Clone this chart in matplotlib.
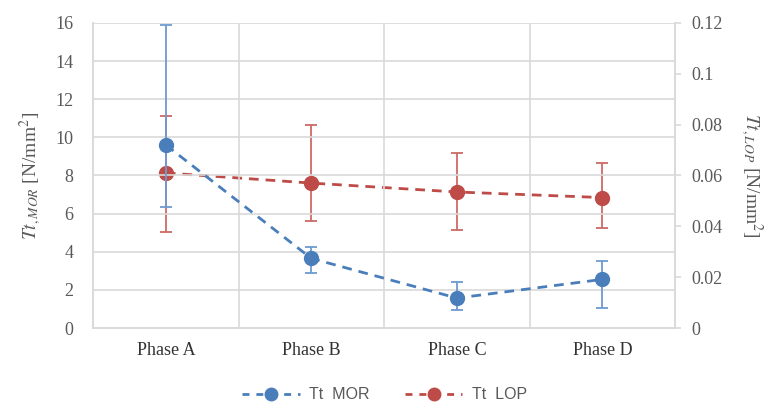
import numpy as np
import matplotlib.pyplot as plt
from matplotlib.lines import Line2D

phases = ['Phase A', 'Phase B', 'Phase C', 'Phase D']

mor_mean = [9.6, 3.65, 1.57, 2.55]
mor_err_low = [3.25, 0.78, 0.63, 1.5]
mor_err_high = [6.3, 0.62, 0.84, 0.96]

lop_mean = [0.061, 0.057, 0.0535, 0.0513]
lop_err_low = [0.0234, 0.015, 0.0149, 0.012]
lop_err_high = [0.0224, 0.0228, 0.0154, 0.0137]

blue = '#4a7ebb'
red = '#be4b48'
blue_err = '#6d9bd1'
red_err = '#cd6a67'
grid_col = '#d9d9d9'
txt_col = '#595959'

plt.rcParams['mathtext.fontset'] = 'stix'

fig = plt.figure(figsize=(7.69, 4.09), dpi=100)
ax = fig.add_axes([0.121, 0.198, 0.757, 0.746])
ax2 = ax.twinx()

x = np.arange(len(phases))

# left axis: MOR
ax.errorbar(x, mor_mean, yerr=[mor_err_low, mor_err_high], fmt='none',
            ecolor=blue_err, elinewidth=1.3, capsize=4.3, capthick=1.3, zorder=3)
ax.plot(x, mor_mean, color=blue, ls=(0, (3.5, 2.5)), lw=2.0,
        marker='o', ms=10, zorder=4)

# right axis: LOP
ax2.errorbar(x, lop_mean, yerr=[lop_err_low, lop_err_high], fmt='none',
             ecolor=red_err, elinewidth=1.3, capsize=4.3, capthick=1.3, zorder=3)
ax2.plot(x, lop_mean, color=red, ls=(0, (3.5, 2.5)), lw=2.0,
         marker='o', ms=10, zorder=4)

ax.set_xlim(-0.5, 3.5)
ax.set_ylim(0, 16)
ax.set_yticks(np.arange(0, 17, 2))
ax2.set_ylim(0, 0.12)
ax2.set_yticks([0, 0.02, 0.04, 0.06, 0.08, 0.1, 0.12])
ax2.set_yticklabels(['0', '0.02', '0.04', '0.06', '0.08', '0.1', '0.12'])

ax.set_xticks(x)
ax.set_xticklabels(phases)

# gridlines
for yv in np.arange(2, 17, 2):
    ax.axhline(yv, color=grid_col, lw=1.2, zorder=0)
for xv in [0.5, 1.5, 2.5]:
    ax.axvline(xv, color=grid_col, lw=1.2, zorder=0)

for a in (ax, ax2):
    for s in a.spines.values():
        s.set_color(grid_col)
        s.set_linewidth(1.2)
    a.spines['top'].set_visible(False)

ax.tick_params(axis='y', length=0, pad=14, labelsize=13, labelcolor=txt_col)
ax.tick_params(axis='x', length=0, pad=10, labelsize=13, labelcolor='#333333')
ax2.tick_params(axis='y', length=4, color=grid_col, width=1.2, pad=8,
                labelsize=13, labelcolor=txt_col)
for lab in ax.get_xticklabels() + ax.get_yticklabels() + ax2.get_yticklabels():
    lab.set_fontfamily('Liberation Serif')

ax.set_ylabel(r'$Tt_{,MOR}$ [N/mm$^2$]', fontsize=14, color=txt_col,
              family='Liberation Serif', labelpad=8)
ax2.set_ylabel(r'$Tt_{,LOP}$ [N/mm$^2$]', fontsize=14, color=txt_col,
               family='Liberation Serif', rotation=-90, labelpad=30)

ax.set_zorder(ax2.get_zorder() + 1)
ax.patch.set_visible(False)

handles = [
    Line2D([], [], color=blue, ls=(0, (2.5, 2.5)), lw=2.0, marker='o', ms=9),
    Line2D([], [], color=red, ls=(0, (2.5, 2.5)), lw=2.0, marker='o', ms=9),
]
fig.legend(handles, ['Tt  MOR', 'Tt  LOP'], loc='center', bbox_to_anchor=(0.5, 0.035),
           ncol=2, frameon=False, handlelength=3.6, handletextpad=0.6,
           columnspacing=2.2, prop={'family': 'Liberation Sans', 'size': 11.5},
           labelcolor=txt_col)

fig.savefig('out.png', dpi=100)
